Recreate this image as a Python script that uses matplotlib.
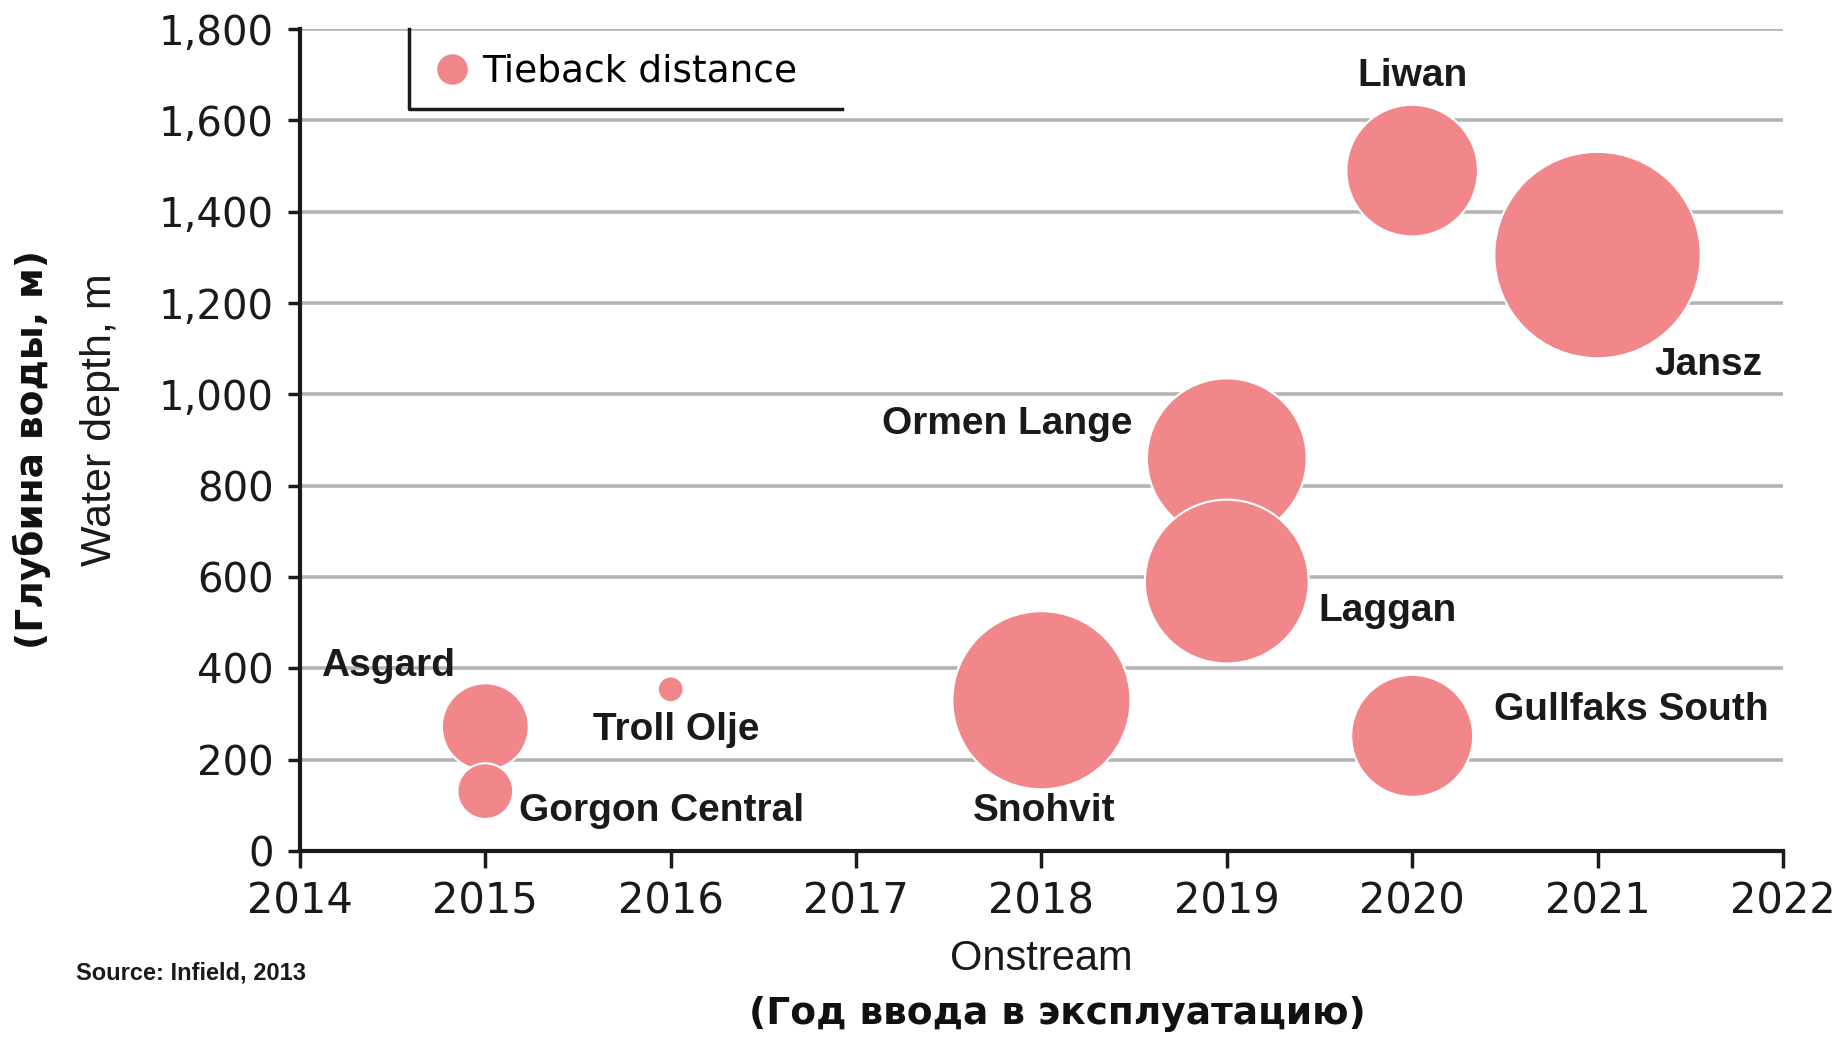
import matplotlib.pyplot as plt
import numpy as np
from matplotlib.lines import Line2D

# data
fields = ["Asgard", "Gorgon Central", "Troll Olje", "Snohvit", "Ormen Lange",
          "Laggan", "Gullfaks South", "Liwan", "Jansz"]
onstream = [2015, 2015, 2016, 2018, 2019, 2019, 2020, 2020, 2021]
depth_m = [272, 131, 354, 330, 860, 590, 252, 1490, 1305]
tieback_km = [34, 14, 3, 143, 115, 121, 67, 78, 192]

years = list(range(2014, 2023))
depth_ticks = list(range(0, 1801, 200))

# label offsets from bubble centre, in points
label_off = [(-70, 44), (127, -14), (4, -29), (2, -80), (-158, 25),
             (116, -21), (158, 19), (0, 68), (80, -79)]

bubble = "#f2878b"

fig = plt.figure(figsize=(18.39, 10.37), dpi=100)
ax = fig.add_axes([0.1631, 0.1794, 0.8064, 0.7926])

ax.set_xlim(2014, 2022)
ax.set_ylim(0, 1800)
ax.set_xticks(years)
ax.set_yticks(depth_ticks)
ax.set_yticklabels(["{:,}".format(v) for v in depth_ticks])

ax.grid(axis="y", color="#b4b4b4", linewidth=2.6, zorder=0)
ax.set_axisbelow(True)
for s in ["top", "right"]:
    ax.spines[s].set_visible(False)
for s in ["left", "bottom"]:
    ax.spines[s].set_linewidth(3)
    ax.spines[s].set_color("#1a1a1a")
    ax.spines[s].set_zorder(5)

ax.tick_params(axis="x", direction="out", length=12, width=2.5, pad=9,
               labelsize=30, colors="#1a1a1a")
ax.tick_params(axis="y", direction="out", length=9, width=2.5, pad=10,
               labelsize=29, colors="#1a1a1a")

sizes = np.array(tieback_km) * 115
ax.scatter(onstream, depth_m, s=sizes, color=bubble, edgecolor="white",
           linewidth=1.5, zorder=3)

for name, x, y, off in zip(fields, onstream, depth_m, label_off):
    ax.annotate(name, (x, y), xytext=off, textcoords="offset points",
                ha="center", va="center", fontsize=28, fontweight="bold",
                family="Liberation Sans", color="#1a1a1a", zorder=4)

# legend with the half frame
ax.plot([0.0735, 0.0735, 0.3655], [1.0, 0.9027, 0.9027], transform=ax.transAxes,
        color="#1a1a1a", linewidth=2.5, clip_on=False, zorder=6)
h = Line2D([], [], marker="o", linestyle="", markersize=22,
           markerfacecolor=bubble, markeredgecolor="none")
ax.legend([h], ["Tieback distance"], loc="center left",
          bbox_to_anchor=(0.080, 0.948), frameon=False, fontsize=27,
          handletextpad=0.3, borderaxespad=0, handlelength=1.0)

fig.text(0.0544, 0.595, "Water depth, m", rotation=90, ha="center", va="center",
         fontsize=31, family="Liberation Sans", color="#1a1a1a")
fig.text(0.566, 0.075, "Onstream", ha="center", va="center",
         fontsize=30, family="Liberation Sans", color="#1a1a1a")
fig.text(0.0414, 0.0617, "Source: Infield, 2013", ha="left", va="center",
         fontsize=17, fontweight="bold", family="Liberation Sans", color="#1a1a1a")

fig.text(0.0172, 0.567, "(Глубина воды, м)", rotation=90, ha="center", va="center",
         fontsize=27, fontweight="bold", family="DejaVu Sans", color="#111111")
fig.text(0.575, 0.022, "(Год ввода в эксплуатацию)", ha="center", va="center",
         fontsize=27, fontweight="bold", family="DejaVu Sans", color="#111111")

fig.savefig("out.png", dpi=100, facecolor="white")
